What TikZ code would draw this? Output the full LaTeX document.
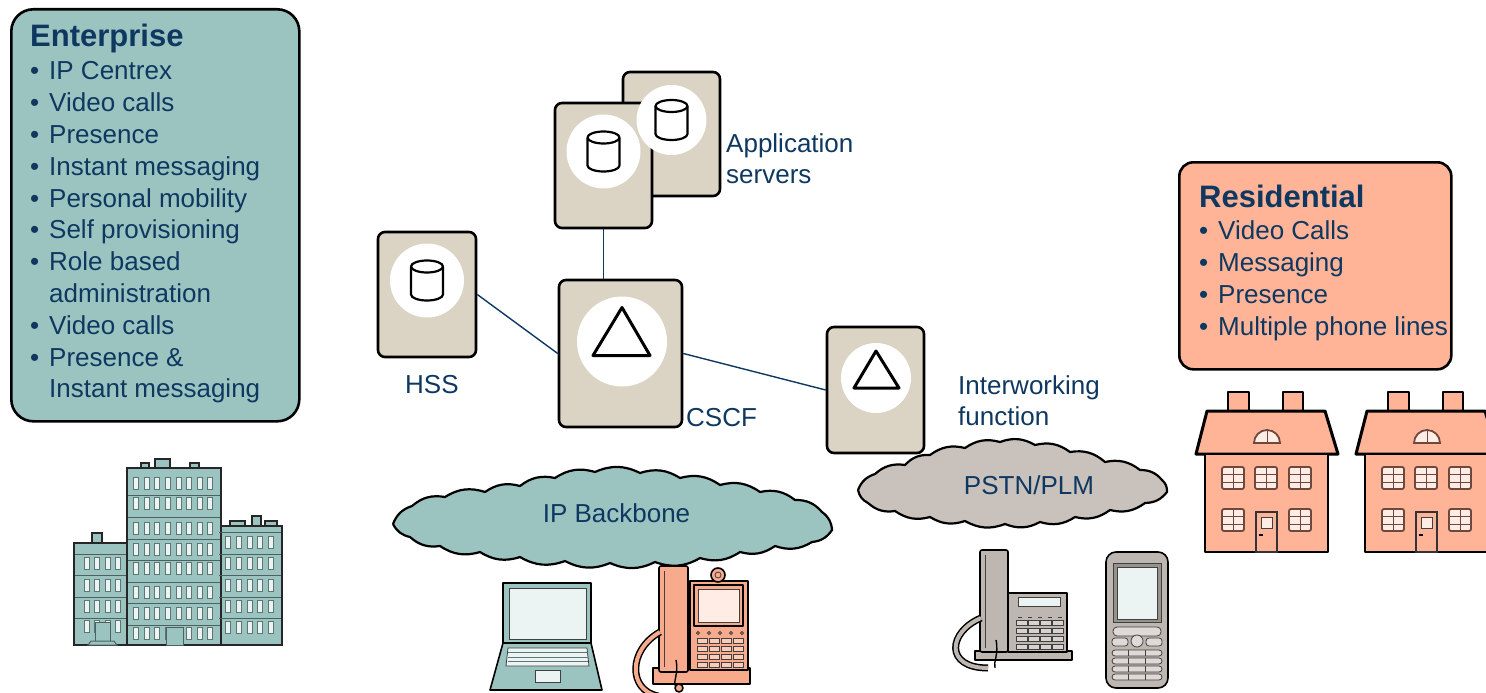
\documentclass[tikz,border=0pt]{standalone}
\usepackage{fontspec}
\setmainfont{Liberation Sans}

\definecolor{navy}{RGB}{14,56,96}
\definecolor{teal1}{RGB}{155,196,193}
\definecolor{salmon1}{RGB}{255,180,152}
\definecolor{salmon2}{RGB}{247,170,140}
\definecolor{srvfill}{RGB}{219,211,196}
\definecolor{cloudgray}{RGB}{201,193,187}
\definecolor{phonegray}{RGB}{190,182,176}
\definecolor{pane}{RGB}{236,244,243}
\definecolor{paneR}{RGB}{255,236,228}
\definecolor{winframe}{RGB}{110,72,60}

\newcommand{\itm}{\makebox[19pt][l]{•}}

\begin{document}
\begin{tikzpicture}[x=1pt,y=-1pt,
    srvbox/.style={draw=black, line width=2.6pt, fill=srvfill, rounded corners=7pt, inner sep=0pt},
    txt/.style={text=navy, font=\fontsize{26}{31}\selectfont, anchor=base west, inner sep=0pt},
    head/.style={txt, font=\fontsize{31}{36}\selectfont\bfseries},
    link/.style={draw=navy, line width=1.4pt},
    infobox/.style={draw=black, line width=2.6pt, rounded corners=22pt, inner sep=0pt, anchor=north west},
    icon/.style={draw=black, line width=1.6pt, line join=round},
    fine/.style={draw=black!75, line width=0.8pt},
    cloudline/.style={draw=black, line width=2.2pt, line join=round},
    bldg/.style={draw=black!85, line width=1.8pt, fill=teal1},
    floor/.style={draw=teal1!50!black, line width=1pt},
    bwin/.style={fill=pane, draw=teal1!60!black, line width=0.5pt},
    house/.style={draw=black, line width=2.2pt, fill=salmon1, line join=round},
    hwin/.style={draw=winframe, line width=1.8pt, fill=paneR, rounded corners=2pt},
]

\clip (0,0) rectangle (1486,693);

% Enterprise
\node[infobox, fill=teal1, minimum width=288pt, minimum height=412pt] (ent) at (10,8) {};
\node[head] (ent-t) at (30,47) {Enterprise};
\foreach \t [count=\i] in {\itm IP Centrex, \itm Video calls, \itm Presence,
    \itm Instant messaging, \itm Personal mobility, \itm Self provisioning,
    \itm Role based, \hspace*{19pt}administration, \itm Video calls,
    \itm Presence \&, \hspace*{19pt}Instant messaging}
    \node[txt] (ent-\i) at (30,48+31.8*\i) {\t};

% Residential
\node[infobox, fill=salmon1, rounded corners=14pt, minimum width=272pt, minimum height=207pt] (res) at (1178,161) {};
\node[head] (res-t) at (1199,207) {Residential};
\foreach \t [count=\i] in {Video Calls, Messaging, Presence, Multiple phone lines}
    \node[txt] (res-\i) at (1199,208+31.8*\i) {\itm\t};

% Server
\node[srvbox, minimum width=97pt, minimum height=124pt] (appb) at (671.5,134) {};
\node[srvbox, minimum width=97pt, minimum height=125pt] (appf) at (603.5,165.5) {};
\node[srvbox, minimum width=98pt, minimum height=125pt] (hss) at (427,294.5) {};
\node[srvbox, minimum width=123pt, minimum height=147pt] (cscf) at (620.5,353.5) {};
\node[srvbox, minimum width=97pt, minimum height=126pt] (iwf) at (875.5,390) {};

% Datenbanken
\foreach \s/\r in {appb/35, appf/37, hss/37} {
    \fill[white] ([yshift=14pt]\s.center) circle (\r);
    \begin{scope}[shift={([yshift=14pt]\s.center)}]
        \draw[icon, line width=2.2pt, fill=white] (-16,-14) -- (-16,14)
            arc[start angle=180, end angle=0, x radius=16, y radius=6] -- (16,-14);
        \draw[icon, line width=2.2pt] (0,-14) ellipse [x radius=16, y radius=6];
    \end{scope}
}

% Dreiecke
\fill[white] ([yshift=12pt,xshift=1.5pt]cscf.center) circle (45);
\draw[icon, line width=3pt] ([yshift=46pt,xshift=1.5pt]cscf.center) -- ++(-29,48) -- ++(57,0) -- cycle;
\fill[white] ([yshift=12pt,xshift=0.5pt]iwf.center) circle (35);
\draw[icon, line width=3pt] ([yshift=39pt,xshift=0.5pt]iwf.center) -- ++(-22,37) -- ++(45,0) -- cycle;

% Verbindungen
\draw[link] (appf.south) -- (appf.south |- cscf.north);
\draw[link] (hss.east) -- (cscf.west);
\draw[link] (cscf.east) -- (iwf.west);

% Beschriftungen
\node[txt] (as-1) at (726,152) {Application};
\node[txt] (as-2) at (726,183) {servers};
\node[txt] (hss-l) at (405,393) {HSS};
\node[txt] (cscf-l) at (686,426) {CSCF};
\node[txt] (iwf-1) at (958,394) {Interworking};
\node[txt] (iwf-2) at (958,425) {function};

% Wolken
\draw[cloudline, fill=teal1] (393,524) to[bend left=25] (412,506) to[bend left=25] (445,497)
    to[bend left=25] (485,492) to[bend left=25] (520,486) to[bend left=25] (555,478)
    to[bend left=25] (595,472) to[bend left=25] (640,473) to[bend left=25] (680,478)
    to[bend left=25] (720,485) to[bend left=25] (760,492) to[bend left=25] (795,500)
    to[bend left=25] (822,512) to[bend left=25] (832,530) to[bend left=25] (812,542)
    to[bend left=25] (775,546) to[bend left=25] (740,552) to[bend left=25] (700,558)
    to[bend left=25] (655,562) to[bend left=25] (610,563) to[bend left=25] (565,561)
    to[bend left=25] (520,557) to[bend left=25] (480,552) to[bend left=25] (440,546)
    to[bend left=25] (410,537) to[bend left=25] (393,524);
\node[txt, anchor=base] (ipb) at (616.5,522) {IP Backbone};

\draw[cloudline, fill=cloudgray] (858,490) to[bend left=25] (875,474) to[bend left=25] (905,465)
    to[bend left=25] (930,455) to[bend left=25] (965,448) to[bend left=25] (1000,442)
    to[bend left=25] (1035,445) to[bend left=25] (1070,452) to[bend left=25] (1105,462)
    to[bend left=25] (1140,470) to[bend left=25] (1162,480) to[bend left=25] (1167,492)
    to[bend left=25] (1145,503) to[bend left=25] (1110,510) to[bend left=25] (1075,517)
    to[bend left=25] (1040,522) to[bend left=25] (1005,524) to[bend left=25] (965,521)
    to[bend left=25] (930,517) to[bend left=25] (895,511) to[bend left=25] (868,503)
    to[bend left=25] (858,490);
\node[txt, anchor=base] (pstn) at (1029,494) {PSTN/PLM};

% Buerogebaeude
\draw[bldg] (74,543) rectangle (127,645);
\draw[bldg] (92,533) rectangle (102,543);
\draw[bldg] (218,526) rectangle (282,645);
\foreach \a/\b/\c in {230/245/521, 252/261/516, 265/277/521}
    \draw[bldg] (\a,\c) rectangle (\b,526);
\draw[bldg] (127,468) rectangle (221,645);
\foreach \a/\b/\c in {141/149/463, 155/170/459, 190/199/463}
    \draw[bldg] (\a,\c) rectangle (\b,468);
\foreach \y in {495,517,539,560,582,603,625}
    \draw[floor] (128,\y) -- (220,\y);
\foreach \y in {554,575,597,618}
    \draw[floor] (75,\y) -- (126,\y);
\foreach \y in {532,554,575,597,618}
    \draw[floor] (219,\y) -- (281,\y);
\foreach \y in {483,503,528,549,568,592,613,633}
    \foreach \k in {0,...,7}
        \draw[bwin] (136+10.6*\k-2.5,\y-6) rectangle (136+10.6*\k+2.5,\y+6);
\foreach \y in {563,585,606,626}
    \foreach \x in {87,97,108,118}
        \draw[bwin] (\x-2.5,\y-6) rectangle (\x+2.5,\y+6);
\foreach \y in {542,563,585,606,627}
    \foreach \x in {228,239,250,260,271}
        \draw[bwin] (\x-2.5,\y-6) rectangle (\x+2.5,\y+6);
\draw[floor, fill=teal1] (166,627) rectangle (183,645);
\draw[floor, fill=teal1] (95,622) rectangle (110,641);
\draw[floor, fill=teal1] (91,641) -- (114,641) -- (117,645) -- (88,645) -- cycle;

% Wohnhaeuser
\foreach \dx in {0,160} {
\begin{scope}[shift={(\dx,0)}]
    \draw[house] (1228,392) rectangle (1249,413);
    \draw[house] (1283,392) rectangle (1303,413);
    \draw[house, line width=3pt] (1207,411) -- (1325,411) -- (1338,454) -- (1196,454) -- cycle;
    \draw[house] (1205,454) rectangle (1328,552);
    \draw[hwin, rounded corners=0pt] (1254,443) arc[start angle=180, end angle=360, radius=13] -- cycle;
    \draw[winframe, line width=1pt] (1267,430) -- (1267,443);
    \foreach \x/\y in {1233/478, 1266/478, 1300/478, 1233/520, 1300/520} {
        \draw[hwin] (\x-11,\y-11) rectangle (\x+11,\y+11);
        \draw[winframe, line width=1pt] (\x,\y-11) -- (\x,\y+11)
            (\x-11,\y-4) -- (\x+11,\y-4) (\x-11,\y+4) -- (\x+11,\y+4);
    }
    \draw[draw=black!80, line width=1.5pt, fill=salmon1] (1256,512) rectangle (1277,552);
    \draw[fine, fill=paneR] (1261,517) rectangle (1272,528);
    \draw[black, line width=1.5pt] (1259,535) -- (1263,535);
\end{scope}
}

% Laptop
\draw[icon, fill=teal1] (503,583) rectangle (591,643);
\draw[fine, fill=pane] (509,588) rectangle (586,639);
\draw[icon, fill=teal1] (503,643) -- (591,643) -- (602,690) -- (490,690) -- cycle;
\draw[fine, fill=pane] (508,648) -- (587,648) -- (589,666) -- (506,666) -- cycle;
\foreach \y in {652.5,657,661.5}
    \draw[teal1!60!black, line width=0.6pt] (508,\y) -- (588,\y);
\draw[fine, fill=pane] (535,670) rectangle (560,682);

% Videotelefon
\draw[icon, fill=salmon2] (653,668) rectangle (750,684);
\draw[icon, fill=salmon2] (690,581) rectangle (748,670);
\draw[icon, fill=salmon2] (694,585) rectangle (743,626);
\draw[fine, fill=paneR] (698,589) rectangle (739,622);
\draw[icon, fill=salmon2] (718,575) circle (7);
\draw[fine] (718,575) circle (3);
\foreach \x in {698,709,720,731,742}
    \draw[fine] (\x,633) circle (1.5);
\foreach \y in {641,649,657,665}
    \foreach \x in {697,709,721,733}
        \draw[fine, fill=paneR!50!salmon2] (\x,\y-2.5) rectangle (\x+10,\y+2.5);
\draw[icon, fill=salmon2, rounded corners=2pt] (659,566) rectangle (688,672);
\draw[fine] (664,571) -- (664,667);
\draw[black, line width=7pt] (660,632) .. controls (628,650) and (628,690) .. (658,696);
\draw[salmon2, line width=4pt] (660,632) .. controls (628,650) and (628,690) .. (658,696);
\draw[black, line width=1.4pt] (676,660) .. controls (679,675) and (672,682) .. (676,688);
\draw[icon, fill=salmon2] (679,688) circle (4);

% Tischtelefon
\draw[icon, fill=phonegray] (975,651) rectangle (1072,660);
\draw[icon, fill=phonegray] (1008,593) rectangle (1067,652);
\draw[fine, fill=pane] (1018,597) rectangle (1060,606);
\foreach \x in {1020,1030,1040,1050,1060}
    \draw[fine] (\x-2,617) -- (\x+2,617);
\foreach \y in {623,631,639,647}
    \foreach \x in {1016,1028,1040,1052}
        \draw[fine, fill=phonegray!60!white] (\x,\y-2.5) rectangle (\x+11,\y+2.5);
\draw[icon, fill=phonegray, rounded corners=2pt] (980,550) rectangle (1008,652);
\draw[fine] (985,555) -- (985,648);
\draw[black, line width=7pt] (981,618) .. controls (948,632) and (944,668) .. (988,668);
\draw[phonegray, line width=4pt] (981,618) .. controls (948,632) and (944,668) .. (988,668);
\draw[black, line width=1.4pt] (996,640) .. controls (999,655) and (993,662) .. (995,668);

% Handy
\draw[icon, fill=phonegray, rounded corners=10pt] (1106,552) rectangle (1168,688);
\draw[fine, fill=phonegray!80!black] (1113,563) rectangle (1161,622);
\draw[fine, fill=pane] (1117,567) rectangle (1157,619);
\draw[fine, fill=phonegray!50!white, rounded corners=4pt] (1113,627) rectangle (1161,636);
\draw[fine, fill=phonegray!50!white, rounded corners=3pt] (1112,638) rectangle (1128,646);
\draw[fine, fill=phonegray!50!white, rounded corners=3pt] (1146,638) rectangle (1162,646);
\draw[fine, fill=phonegray!50!white] (1137,641) circle (6);
\foreach \y in {653,661,669,677}
    \draw[fine, fill=phonegray!50!white, rounded corners=3pt] (1112,\y-3) rectangle (1162,\y+3);
\foreach \y in {653,661,669,677}
    \draw[fine] (1128.5,\y-3) -- (1128.5,\y+3) (1145.5,\y-3) -- (1145.5,\y+3);

\end{tikzpicture}
\end{document}
